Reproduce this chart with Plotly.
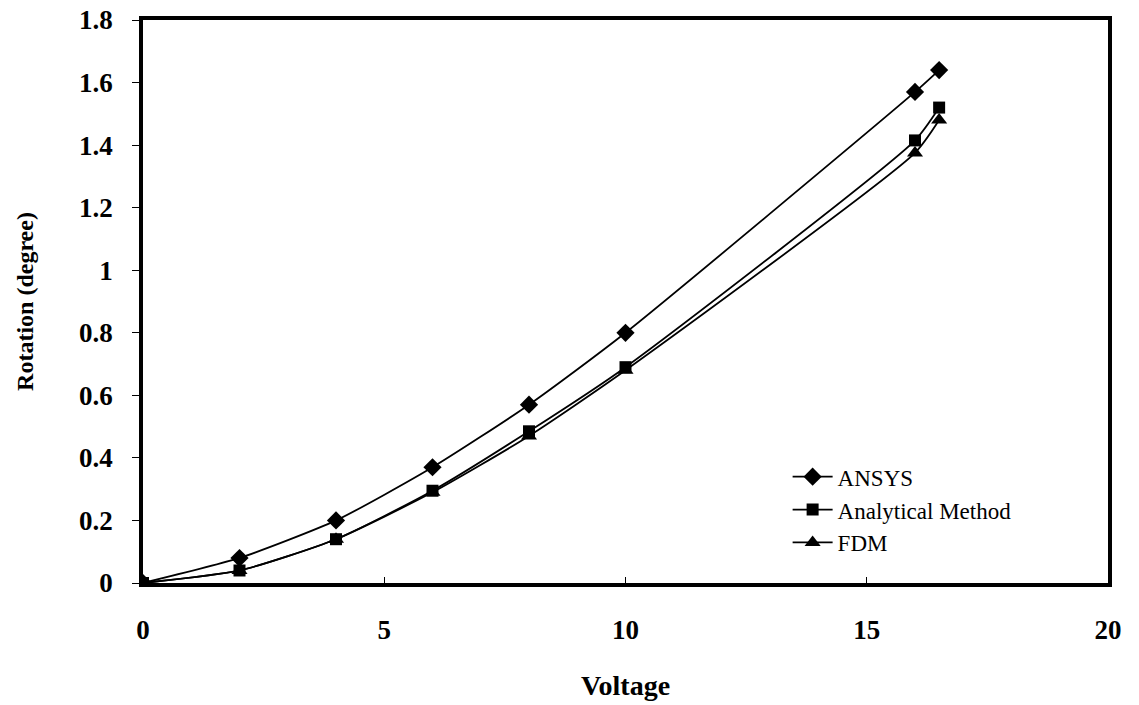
import plotly.graph_objects as go

voltage = [0, 2, 4, 6, 8, 10, 16, 16.5]
ansys = [0, 0.08, 0.20, 0.37, 0.57, 0.80, 1.57, 1.64]
analytical = [0, 0.04, 0.14, 0.295, 0.485, 0.69, 1.415, 1.52]
fdm = [0, 0.04, 0.14, 0.29, 0.47, 0.68, 1.375, 1.48]

series = [
    ("ANSYS", ansys, "diamond", 14),
    ("Analytical Method", analytical, "square", 12),
    ("FDM", fdm, "triangle-up", 14),
]

fig = go.Figure()
for name, vals, sym, size in series:
    fig.add_trace(go.Scatter(
        x=voltage, y=vals, name=name, mode="lines+markers",
        line=dict(color="black", width=1.8, shape="spline", smoothing=0.6),
        marker=dict(symbol=sym, size=size, color="black"),
    ))

serif = "Liberation Serif, Times New Roman, serif"
fig.update_layout(
    width=1139, height=705,
    margin=dict(l=143, r=31, t=20, b=122, autoexpand=False),
    paper_bgcolor="white", plot_bgcolor="white",
    font=dict(family=serif, color="black"),
    showlegend=True,
    legend=dict(
        x=0.668, y=0.227, xanchor="left", yanchor="top",
        font=dict(family=serif, size=23, color="black"),
        bgcolor="rgba(0,0,0,0)", tracegroupgap=0, itemwidth=40,
    ),
    xaxis=dict(
        range=[0, 20], tickvals=[0, 5, 10, 15, 20],
        ticks="inside", ticklen=6, tickcolor="black",
        showline=True, linecolor="black", linewidth=3.5, mirror=True,
        showgrid=False, zeroline=False, automargin=False,
        tickfont=dict(family=serif, size=27, color="black", weight="bold"),
        ticklabelstandoff=20,
        title=dict(text="<b>Voltage</b>", font=dict(family=serif, size=28, color="black"), standoff=32),
    ),
    yaxis=dict(
        range=[0, 1.8], tickvals=[0, 0.2, 0.4, 0.6, 0.8, 1, 1.2, 1.4, 1.6, 1.8],
        ticktext=["0", "0.2", "0.4", "0.6", "0.8", "1", "1.2", "1.4", "1.6", "1.8"],
        ticks="outside", ticklen=7, tickcolor="black",
        showline=True, linecolor="black", linewidth=3.5, mirror=True,
        showgrid=False, zeroline=False, automargin=False,
        tickfont=dict(family=serif, size=27, color="black", weight="bold"),
        ticklabelstandoff=14,
        title=dict(text="<b>Rotation (degree)</b>", font=dict(family=serif, size=24, color="black"), standoff=40),
    ),
)

fig.write_html("out.html")
